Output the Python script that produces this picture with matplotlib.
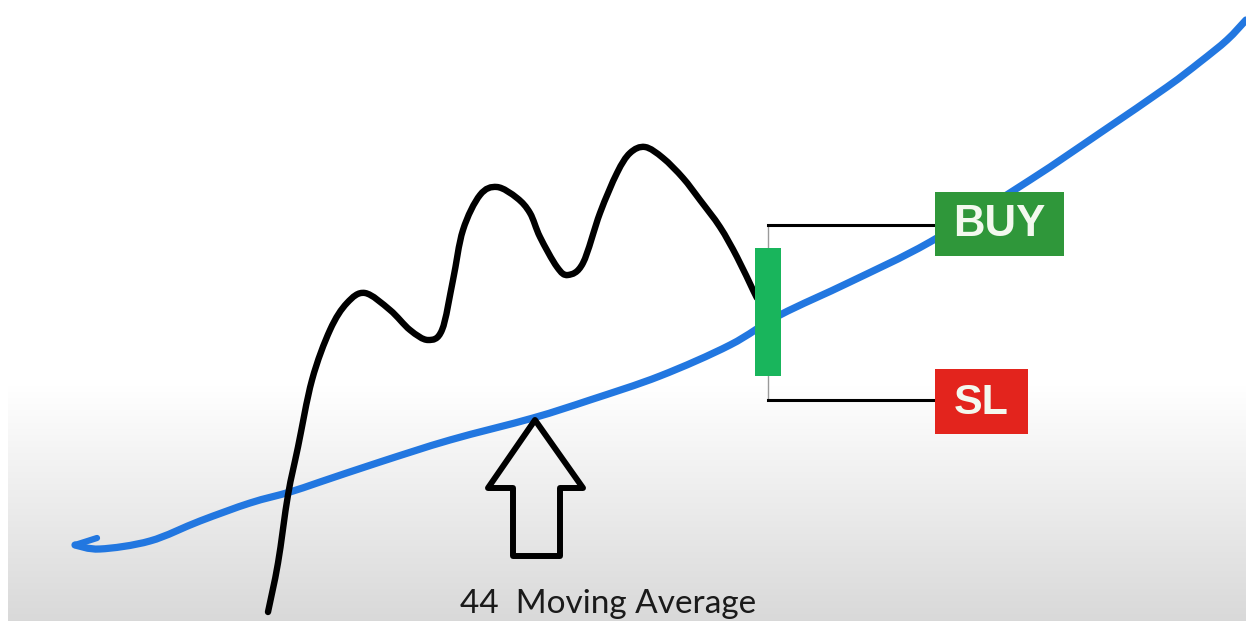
"""44 moving average buy / stop-loss sketch."""

import matplotlib
matplotlib.use('Agg')
import matplotlib.pyplot as plt
from matplotlib.patches import Rectangle, Polygon, PathPatch
from matplotlib.path import Path
import numpy as np

W, H = 1246, 621

# Blue moving average line (x, y in picture units, y grows downward)
ma_x = [75, 100, 150, 200, 250, 290, 320, 380, 450, 533, 590, 660, 730, 780,
        850, 930, 1030, 1100, 1167, 1200, 1227, 1246]
ma_y = [545, 549, 541, 521, 503, 492, 482, 462, 440, 418, 400, 376, 345, 315,
        282, 242, 180, 133, 87, 62, 40, 20]
hook_x = [75, 97]
hook_y = [545, 538]

# Black price line
price_x = [268, 278, 288, 298, 312, 330, 347, 365, 390, 410, 428, 442, 453,
           463, 480, 497, 517, 530, 540, 557, 568, 583, 600, 617, 630, 645,
           663, 683, 700, 720, 737, 753, 757]
price_y = [612, 563, 495, 447, 380, 330, 303, 293, 310, 330, 340, 330, 280,
           230, 195, 187, 198, 213, 237, 267, 275, 263, 213, 173, 153, 147,
           158, 178, 200, 227, 257, 290, 298]

# Candle: x centre, body top/bottom, high, low
candle = {'x': 768, 'top': 248, 'bottom': 376, 'high': 225, 'low': 400}

# Up arrow outline
arrow_x = [535, 583, 560, 560, 513, 513, 488]
arrow_y = [420, 488, 488, 556, 556, 488, 488]

label_text = '44  Moving Average'


def smooth_path(xs, ys):
    """Bezier path passing through every point (Catmull-Rom handles)."""
    p = np.column_stack([xs, ys]).astype(float)
    verts = [p[0]]
    codes = [Path.MOVETO]
    n = len(p)
    for i in range(n - 1):
        p0 = p[max(i - 1, 0)]
        p1, p2 = p[i], p[i + 1]
        p3 = p[min(i + 2, n - 1)]
        verts += [p1 + (p2 - p0) / 6, p2 - (p3 - p1) / 6, p2]
        codes += [Path.CURVE4] * 3
    return Path(verts, codes)


fig = plt.figure(figsize=(W / 100, H / 100), dpi=100)
ax = fig.add_axes([0, 0, 1, 1])
ax.set_xlim(0, W)
ax.set_ylim(H, 0)
ax.axis('off')

# Background: white top, grey gradient toward the bottom
rows = np.arange(H)
t = np.clip((rows - 385) / (H - 385), 0, 1)
shade = (1 - 0.15 * t)[:, None, None] * np.ones((1, 2, 3))
ax.imshow(shade, extent=[8, W, H, 0], aspect='auto', zorder=0)

# Moving average
ax.add_patch(PathPatch(smooth_path(ma_x, ma_y), fill=False, edgecolor='#2277e0',
                       lw=5.2, capstyle='round', joinstyle='round', zorder=2))
ax.plot(hook_x, hook_y, color='#2277e0', lw=4.5, solid_capstyle='round', zorder=2)

# Price line
ax.add_patch(PathPatch(smooth_path(price_x, price_y), fill=False, edgecolor='black',
                       lw=4.6, capstyle='round', joinstyle='round', zorder=3))

# Candle wick and body
ax.plot([candle['x'], candle['x']], [candle['high'], candle['low']],
        color='#9a9a9a', lw=1, zorder=3)
ax.add_patch(Rectangle((755, candle['top']), 26, candle['bottom'] - candle['top'],
                       facecolor='#19b55c', edgecolor='none', zorder=4))

# Connector lines to labels
ax.plot([candle['x'], 935], [candle['high'], candle['high']], color='black', lw=2.2, zorder=3)
ax.plot([candle['x'], 935], [candle['low'], candle['low']], color='black', lw=2.2, zorder=3)

# BUY and SL boxes
ax.add_patch(Rectangle((935, 192), 129, 64, facecolor='#2f973a', edgecolor='none', zorder=5))
ax.text(999.5, 225, 'BUY', color='#f3f9ef', fontsize=31.5, fontweight='bold',
        family='Liberation Sans', ha='center', va='center', zorder=6)
ax.add_patch(Rectangle((935, 369), 93, 65, facecolor='#e3241d', edgecolor='none', zorder=5))
ax.text(981, 403, 'SL', color='#f3f9ef', fontsize=31, fontweight='bold',
        family='Liberation Sans', ha='center', va='center', zorder=6)

# Hollow arrow
ax.add_patch(Polygon(list(zip(arrow_x, arrow_y)), closed=True, fill=False,
                     edgecolor='black', lw=4.3, joinstyle='round', zorder=4))

ax.text(460, 613, label_text, fontsize=24, family='Lato', color='#1a1a1a',
        ha='left', va='baseline', zorder=6)

fig.savefig('out.png', dpi=100)
